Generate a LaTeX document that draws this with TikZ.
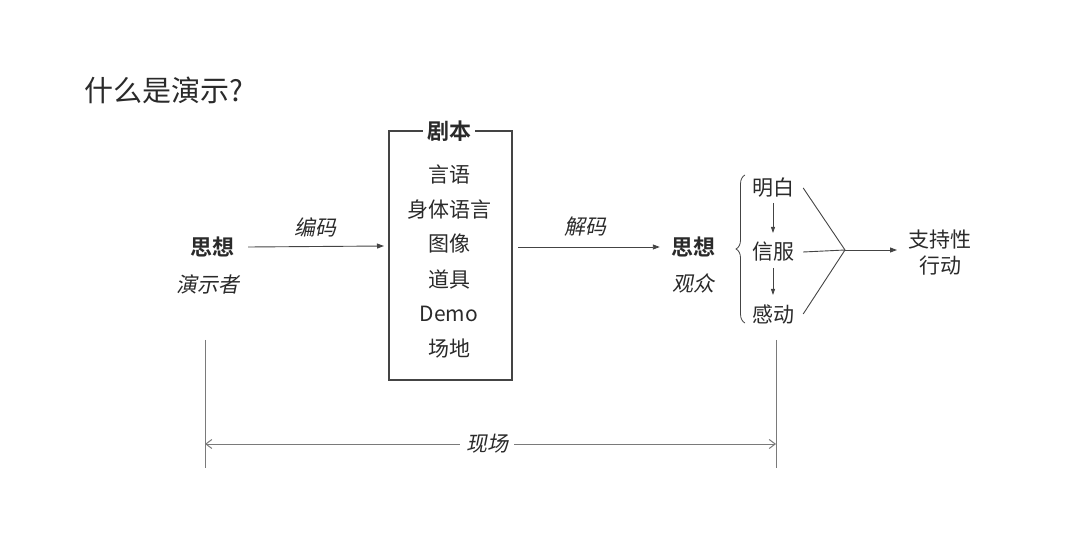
\documentclass[tikz,border=0pt]{standalone}
\usepackage{fontspec}
\usetikzlibrary{arrows.meta,decorations.pathreplacing}
\setmainfont{Noto Sans CJK SC}
\newfontfamily\cjk{Noto Sans CJK SC}
\newfontfamily\cjkit{Noto Sans CJK SC}[FakeSlant=0.2]
\newfontfamily\cjkb{Noto Sans CJK SC Bold}
\definecolor{txt}{HTML}{2A2A2A}
\definecolor{ln}{HTML}{444444}
\definecolor{dim}{HTML}{7A7A7A}
\tikzset{
  lbl/.style={inner sep=1pt, text=txt, font=\fontsize{21}{23}\selectfont\cjk},
  ilbl/.style={inner sep=1pt, text=txt, font=\fontsize{21}{23}\selectfont\cjkit},
  blbl/.style={inner sep=1pt, text=txt, font=\fontsize{22}{24}\selectfont\cjkb},
  arr/.style={draw=ln, line width=0.9pt, -{Triangle[length=7pt,width=5pt]}},
  thin/.style={draw=ln, line width=0.9pt},
  dimln/.style={draw=dim, line width=1pt},
}
\begin{document}
\begin{tikzpicture}[x=1pt,y=-1pt]
\useasboundingbox (0,0) rectangle (1080,540);
% title
\node[anchor=west, inner sep=0, text=txt, font=\fontsize{29}{31}\selectfont\cjk] (title) at (84,90) {什么是演示?};
% script box
\node[blbl] (jb) at (449,131) {剧本};
\draw[ln, line width=1.3pt] (jb.west) ++(-3,0) -- (389,131) -- (389,380) -- (512,380) -- (512,131) -- ([xshift=3pt]jb.east);
\node[lbl] (i1) at (449,175) {言语};
\node[lbl] (i2) at (449,210) {身体语言};
\node[lbl] (i3) at (449,244) {图像};
\node[lbl] (i4) at (449,279) {道具};
\node[lbl] (i5) at (449,314) {Demo};
\node[lbl] (i6) at (449,349) {场地};
\coordinate (boxL) at (384,246);
\coordinate (boxR) at (518,247);
% left
\node[blbl] (sx1) at (212,247) {思想};
\node[ilbl] (yz) at (208,284) {演示者};
\draw[arr] (sx1.east) ++(13,0) coordinate (a1) -- (boxL);
\node[ilbl] (bm) at (315,227) {编码};
% right
\node[blbl] (sx2) at (693,247) {思想};
\node[ilbl] (gz) at (693,283) {观众};
\draw[arr] (boxR) -- ([xshift=-10pt]sx2.west);
\node[ilbl] (jm) at (585,227) {解码};
% brace
\coordinate (brB) at (745,323);
\coordinate (brT) at (745,175);
\draw[thin, line width=0.8pt, decorate, decoration={brace, amplitude=9pt}] (brB) -- (brT);
\node[lbl] (mb) at (773,188) {明白};
\node[lbl] (xf) at (773,252) {信服};
\node[lbl] (gd) at (773,314) {感动};
\draw[ln, line width=0.8pt, -{Triangle[length=6pt,width=4pt]}] ([yshift=-15pt]mb.center) -- ([yshift=19pt]xf.center);
\draw[ln, line width=0.8pt, -{Triangle[length=6pt,width=4pt]}] ([yshift=-16pt]xf.center) -- ([yshift=19pt]gd.center);
\coordinate (cv) at (845,250);
\draw[thin] ([xshift=8pt]mb.east) -- (cv);
\draw[thin] ([xshift=8pt]xf.east) -- (cv);
\draw[thin] ([xshift=8pt]gd.east) -- (cv);
\node[lbl, align=center, font=\fontsize{21}{26}\selectfont\cjk] (zc) at (940,253) {支持性\\行动};
\draw[arr] (cv) -- (897,250);
% dimension
\coordinate (vL1) at (205,340);
\coordinate (vL2) at (205,468);
\coordinate (vR1) at (776,340);
\coordinate (vR2) at (776,468);
\draw[dimln] (vL1) -- (vL2);
\draw[dimln] (vR1) -- (vR2);
\node[ilbl, fill=white, inner sep=6pt] (xc) at (487,444) {现场};
\draw[dimln, {Straight Barb[length=6pt,width=9pt]}-] (205,444) -- (xc.west);
\draw[dimln, -{Straight Barb[length=6pt,width=9pt]}] (xc.east) -- (776,444);
\end{tikzpicture}
\end{document}
